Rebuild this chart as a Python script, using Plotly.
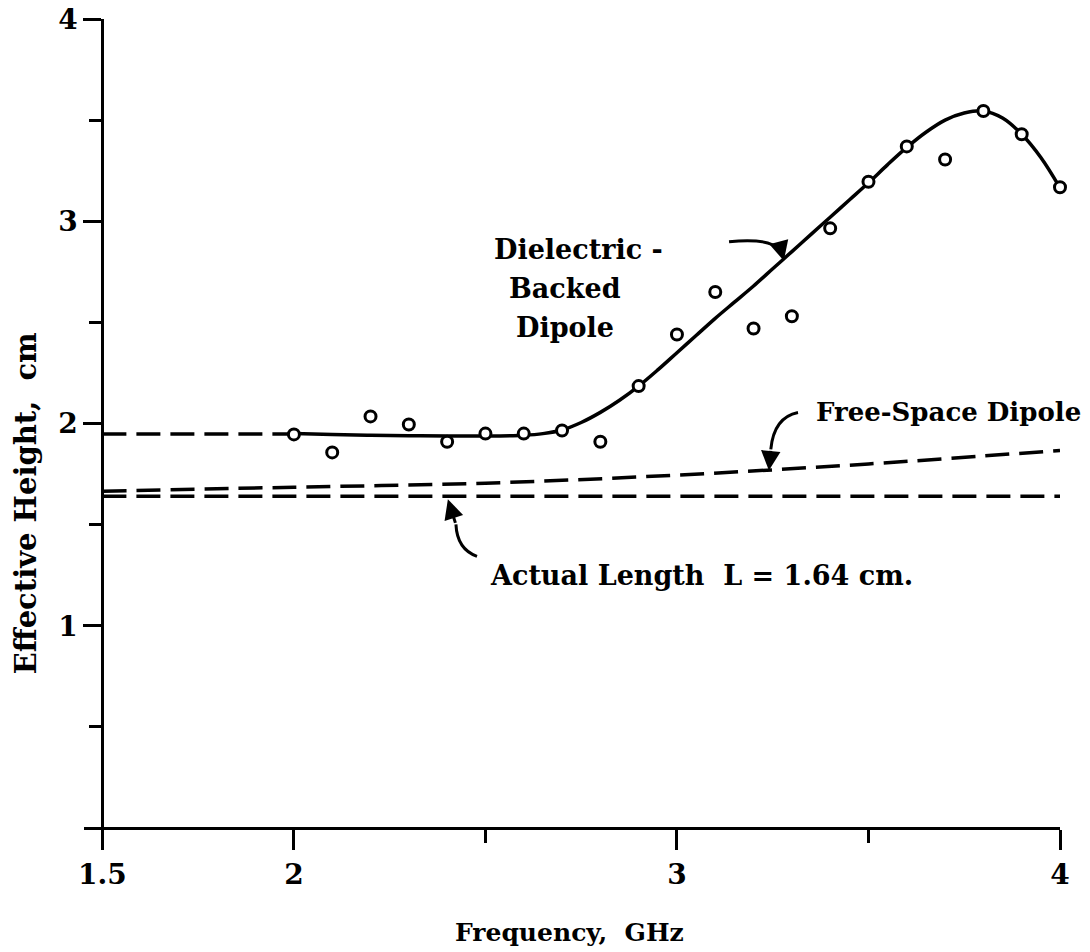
import plotly.graph_objects as go

# ---- data ----
meas_freq = [2.0, 2.1, 2.2, 2.3, 2.4, 2.5, 2.6, 2.7, 2.8, 2.9, 3.0,
             3.1, 3.2, 3.3, 3.4, 3.5, 3.6, 3.7, 3.8, 3.9, 4.0]
meas_height = [1.946, 1.857, 2.035, 1.995, 1.91, 1.95, 1.95, 1.965, 1.91, 2.185, 2.44,
               2.65, 2.47, 2.53, 2.965, 3.195, 3.37, 3.305, 3.545, 3.43, 3.168]

fit_freq = [2.0, 2.1, 2.2, 2.3, 2.4, 2.5, 2.6, 2.65, 2.7, 2.75, 2.8, 2.85, 2.9, 2.95,
            3.0, 3.05, 3.1, 3.15, 3.2, 3.25, 3.3, 3.35, 3.4, 3.45, 3.5, 3.55, 3.6, 3.65,
            3.7, 3.75, 3.8, 3.85, 3.9, 3.95, 4.0]
fit_height = [1.95, 1.945, 1.942, 1.94, 1.938, 1.938, 1.942, 1.95, 1.968, 2.005, 2.055, 2.115, 2.185, 2.265,
              2.35, 2.435, 2.52, 2.60, 2.68, 2.765, 2.85, 2.935, 3.02, 3.105, 3.19, 3.28, 3.365, 3.44,
              3.50, 3.535, 3.545, 3.51, 3.43, 3.315, 3.165]

ext_freq = [1.5, 2.0]
ext_height = [1.948, 1.948]

free_freq = [1.5, 2.0, 2.5, 3.0, 3.5, 4.0]
free_height = [1.665, 1.685, 1.705, 1.745, 1.80, 1.867]

actual_freq = [1.5, 4.0]
actual_height = [1.64, 1.64]

x_tickvals = [1.5, 2, 3, 4]
x_ticktext = ["1.5", "2", "3", "4"]
x_minor = [2.5, 3.5]
y_tickvals = [1, 2, 3, 4]
y_ticktext = ["1", "2", "3", "4"]
y_minor = [0.5, 1.5, 2.5, 3.5]

FONT = "DejaVu Serif"
DASH = "24px,10px"

fig = go.Figure()
fig.add_trace(go.Scatter(x=ext_freq, y=ext_height, mode="lines",
                         line=dict(color="black", width=3.5, dash=DASH)))
fig.add_trace(go.Scatter(x=free_freq, y=free_height, mode="lines",
                         line=dict(color="black", width=3.5, dash=DASH, shape="spline")))
fig.add_trace(go.Scatter(x=actual_freq, y=actual_height, mode="lines",
                         line=dict(color="black", width=3.5, dash=DASH)))
fig.add_trace(go.Scatter(x=fit_freq, y=fit_height, mode="lines",
                         line=dict(color="black", width=3.5, shape="spline", smoothing=1.0)))
fig.add_trace(go.Scatter(x=meas_freq, y=meas_height, mode="markers", cliponaxis=False,
                         marker=dict(symbol="circle", size=11, color="white",
                                     line=dict(color="black", width=3))))

ymin = -0.094
xmin = 1.452
fig.update_layout(
    width=1090, height=952,
    margin=dict(l=84, r=30, t=19, b=105),
    paper_bgcolor="white", plot_bgcolor="white",
    showlegend=False,
    font=dict(family=FONT, color="black", size=27),
    xaxis=dict(range=[xmin, 4.0], anchor="free", position=(0 - ymin) / (4.0 - ymin),
               automargin=False,
               showline=True, linecolor="black", linewidth=3,
               showgrid=False, zeroline=False,
               tickmode="array", tickvals=x_tickvals, ticktext=x_ticktext,
               ticks="outside", ticklen=20, tickwidth=3, tickcolor="black",
               tickfont=dict(family=FONT, size=28, weight="bold"),
               minor=dict(tickmode="array", tickvals=x_minor, ticks="outside",
                          ticklen=13, tickwidth=3, tickcolor="black", showgrid=False)),
    yaxis=dict(range=[ymin, 4.0], anchor="free", position=(1.5 - xmin) / (4.0 - xmin),
               automargin=False,
               showline=True, linecolor="black", linewidth=3,
               showgrid=False, zeroline=False,
               tickmode="array", tickvals=y_tickvals, ticktext=y_ticktext,
               ticks="outside", ticklen=18, tickwidth=3, tickcolor="black",
               tickfont=dict(family=FONT, size=28, weight="bold"),
               minor=dict(tickmode="array", tickvals=y_minor, ticks="outside",
                          ticklen=12, tickwidth=3, tickcolor="black", showgrid=False)),
)

def txt(x, y, s, ref="data", **kw):
    refs = dict(xref="x", yref="y") if ref == "data" else dict(xref="paper", yref="paper")
    fig.add_annotation(x=x, y=y, text=s, showarrow=False, **refs,
                       font=dict(family=FONT, size=kw.pop("size", 27), color="black",
                                 weight="bold"), **kw)

txt(2.742, 2.859, "Dielectric -")
txt(2.708, 2.667, "Backed")
txt(2.708, 2.474, "Dipole")
txt(3.710, 2.059, "Free-Space Dipole", size=26)
txt(3.063, 1.249, "Actual Length  L = 1.64 cm.")
txt(0.497, -0.123, "Frequency,  GHz", ref="paper", size=25)
txt(-0.079, 0.415, "Effective Height,  cm", ref="paper", size=29, textangle=-90)

# curved arrow tails
arrow_paths = [
    "M 3.136,2.899 Q 3.240,2.919 3.268,2.86",
    "M 3.316,2.054 Q 3.253,2.030 3.245,1.872",
    "M 2.478,1.343 Q 2.426,1.378 2.423,1.501",
]
for p in arrow_paths:
    fig.add_shape(type="path", path=p, xref="x", yref="y",
                  line=dict(color="black", width=3))

# arrow heads
for (x, y, ax, ay) in [(3.279, 2.805, -4, -15), (3.240, 1.768, 2, -21), (2.402, 1.625, 8, 25)]:
    fig.add_annotation(x=x, y=y, xref="x", yref="y", ax=ax, ay=ay, text="",
                       showarrow=True, arrowhead=2, arrowsize=1.3, arrowwidth=3,
                       arrowcolor="black")

fig.write_html("out.html")
